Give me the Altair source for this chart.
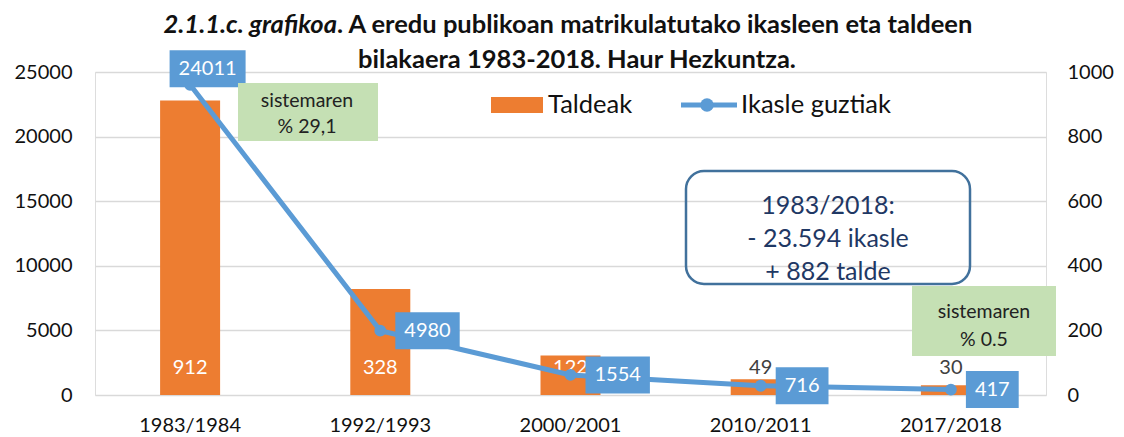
import altair as alt
import pandas as pd

# ---- data ----
years = ["1983/1984", "1992/1993", "2000/2001", "2010/2011", "2017/2018"]
taldeak = [912, 328, 122, 49, 30]          # groups (right axis)
ikasleak = [24011, 4980, 1554, 716, 417]    # students (left axis)
left_ticks = [0, 5000, 10000, 15000, 20000, 25000]
right_ticks = [0, 200, 400, 600, 800, 1000]
title_a = "2.1.1.c. grafikoa"
title_b = ". A eredu publikoan matrikulatutako ikasleen eta taldeen"
title_c = "bilakaera 1983-2018. Haur Hezkuntza."
note_box = "1983/2018:\n- 23.594 ikasle\n+ 882 talde"
note_first = "sistemaren\n% 29,1"
note_last = "sistemaren\n% 0.5"
legend_labels = ["Taldeak", "Ikasle guztiak"]

FONT = "Lato"
ORANGE = "#ED7D31"
BLUE = "#5B9BD5"
GREEN = "#C5E0B4"
NAVY = "#1F3864"
W, H = 951, 323

df = pd.DataFrame({"year": years, "taldeak": taldeak, "ikasleak": ikasleak})
df["idx"] = range(len(df))
df["lbl"] = df["ikasleak"].astype(str)

# label-box shapes (custom symbol paths, unit = K px)
DIG, PAD, BH, K = 11.6, 9.0, 37.0, 10.0


def box_path(n, above):
    w = n * DIG + 2 * PAD
    if above:
        cx, cy = 17.5, -16.0
        x0, x1 = cx - w / 2, cx + w / 2
        y0, y1 = cy - BH / 2, cy + BH / 2
    else:
        x0, x1 = 15.0, 15.0 + w
        y0, y1 = -BH / 2, BH / 2
    f = lambda v: f"{v / K:.3f}"
    return f"M{f(x0)},{f(y0)}L{f(x1)},{f(y0)}L{f(x1)},{f(y1)}L{f(x0)},{f(y1)}Z"


df["box"] = [box_path(len(s), i == 0) for i, s in zip(df["idx"], df["lbl"])]

x_enc = alt.X(
    "year:N",
    sort=years,
    scale=alt.Scale(paddingInner=0, paddingOuter=0),
    axis=alt.Axis(
        title=None, labelAngle=0, labelFont=FONT, labelFontSize=20,
        labelColor="#111111", labelPadding=20, domain=False, ticks=False,
    ),
)

base = alt.Chart(df)

# ---- bars (right axis) ----
y_bar = alt.Y(
    "taldeak:Q",
    scale=alt.Scale(domain=[0, 1000], nice=False),
    axis=alt.Axis(
        orient="right", values=right_ticks, format="d", grid=False, title=None,
        domain=False, ticks=False, labelPadding=21, labelFont=FONT,
        labelFontSize=20, labelColor="#111111",
    ),
)
bars = base.mark_bar(color=ORANGE, size=60).encode(x=x_enc, y=y_bar)
bar_labels = base.mark_text(
    font=FONT, fontSize=20, baseline="middle", align="center", dy=-27
).encode(
    x=x_enc,
    y=alt.datum(0),
    text=alt.Text("taldeak:Q"),
    color=alt.condition("datum.taldeak > 100", alt.value("white"), alt.value("#404040")),
)
bar_group = alt.layer(bars, bar_labels)

# ---- line (left axis) ----
y_line = alt.Y(
    "ikasleak:Q",
    scale=alt.Scale(domain=[0, 25000], nice=False),
    axis=alt.Axis(
        orient="left", values=left_ticks, format="d", grid=True,
        gridColor="#D9D9D9", gridWidth=1.5, title=None, domain=False,
        ticks=False, labelPadding=23, labelFont=FONT, labelFontSize=20,
        labelColor="#111111",
    ),
)
line = base.mark_line(color=BLUE, strokeWidth=5).encode(x=x_enc, y=y_line)
pts = base.mark_circle(color=BLUE, size=140, opacity=1).encode(x=x_enc, y=y_line)
boxes = base.mark_point(
    filled=True, size=(2 * K) ** 2, fill=BLUE, opacity=1, strokeWidth=0
).encode(x=x_enc, y=y_line, shape=alt.Shape("box:N", scale=None, legend=None))
txt_first = base.transform_filter("datum.idx == 0").mark_text(
    font=FONT, fontSize=20, color="white", align="center", baseline="middle",
    dx=17.5, dy=-16,
).encode(x=x_enc, y=y_line, text="lbl:N")
txt_rest = base.transform_filter("datum.idx > 0").mark_text(
    font=FONT, fontSize=20, color="white", align="left", baseline="middle", dx=24,
).encode(x=x_enc, y=y_line, text="lbl:N")
line_group = alt.layer(line, pts, boxes, txt_first, txt_rest)

# ---- annotations (pixel positions relative to plot area) ----
one = pd.DataFrame({"a": [0]})


def rect(x, x2, y, y2, **kw):
    return alt.Chart(one).mark_rect(**kw).encode(
        x=alt.value(x), x2=alt.value(x2), y=alt.value(y), y2=alt.value(y2)
    )


def text(t, x, y, **kw):
    return alt.Chart(one).mark_text(text=t, **kw).encode(x=alt.value(x), y=alt.value(y))


green1 = rect(143, 283, 11, 69, color=GREEN)
green1_t = text(note_first, 212, 29, font=FONT, fontSize=19.5, color="#222222",
                lineBreak="\n", lineHeight=26, baseline="middle", align="center")
green2 = rect(817, 961, 214, 284, color=GREEN)
green2_t = text(note_last, 889, 240, font=FONT, fontSize=19.5, color="#222222",
                lineBreak="\n", lineHeight=28, baseline="middle", align="center")
rbox = rect(591, 875, 99, 212, fill="white", fillOpacity=0, stroke="#41719C",
            strokeWidth=2.5, cornerRadius=18)
rbox_t = text(note_box, 733, 134, font=FONT, fontSize=25, color=NAVY,
              lineBreak="\n", lineHeight=33, baseline="middle", align="center")

leg_rect = rect(396, 448, 25, 41, color=ORANGE)
leg_t1 = text(legend_labels[0], 453, 33, font=FONT, fontSize=25.5, color="#111111",
              baseline="middle", align="left")
leg_line = alt.Chart(one).mark_rule(color=BLUE, strokeWidth=5).encode(
    x=alt.value(586), x2=alt.value(642), y=alt.value(33)
)
leg_pt = alt.Chart(one).mark_circle(color=BLUE, size=180, opacity=1).encode(
    x=alt.value(612), y=alt.value(33)
)
leg_t2 = text(legend_labels[1], 646, 33, font=FONT, fontSize=25.5, color="#111111",
              baseline="middle", align="left")

TX = 242
TS = 25.5
t_a = text(title_a, TX, -47, font=FONT, fontSize=TS, fontWeight="bold",
           fontStyle="italic", color="#111111", baseline="middle", align="right")
t_b = text(title_b, TX, -47, font=FONT, fontSize=TS, fontWeight="bold",
           color="#111111", baseline="middle", align="left")
t_c = text(title_c, 482, -12, font=FONT, fontSize=TS, fontWeight="bold",
           color="#111111", baseline="middle", align="center")

chart = alt.layer(
    bar_group, line_group,
    green1, green1_t, green2, green2_t, rbox, rbox_t,
    leg_rect, leg_t1, leg_line, leg_pt, leg_t2,
    t_a, t_b, t_c,
).resolve_scale(y="independent").properties(
    width=W, height=H,
    autosize=alt.AutoSizeParams(type="none"),
    padding={"left": 87, "top": 64, "right": 70, "bottom": 42},
).configure_view(stroke=None).configure(background="white")

chart.save("out.html", embed_options={"renderer": "svg", "actions": False})
